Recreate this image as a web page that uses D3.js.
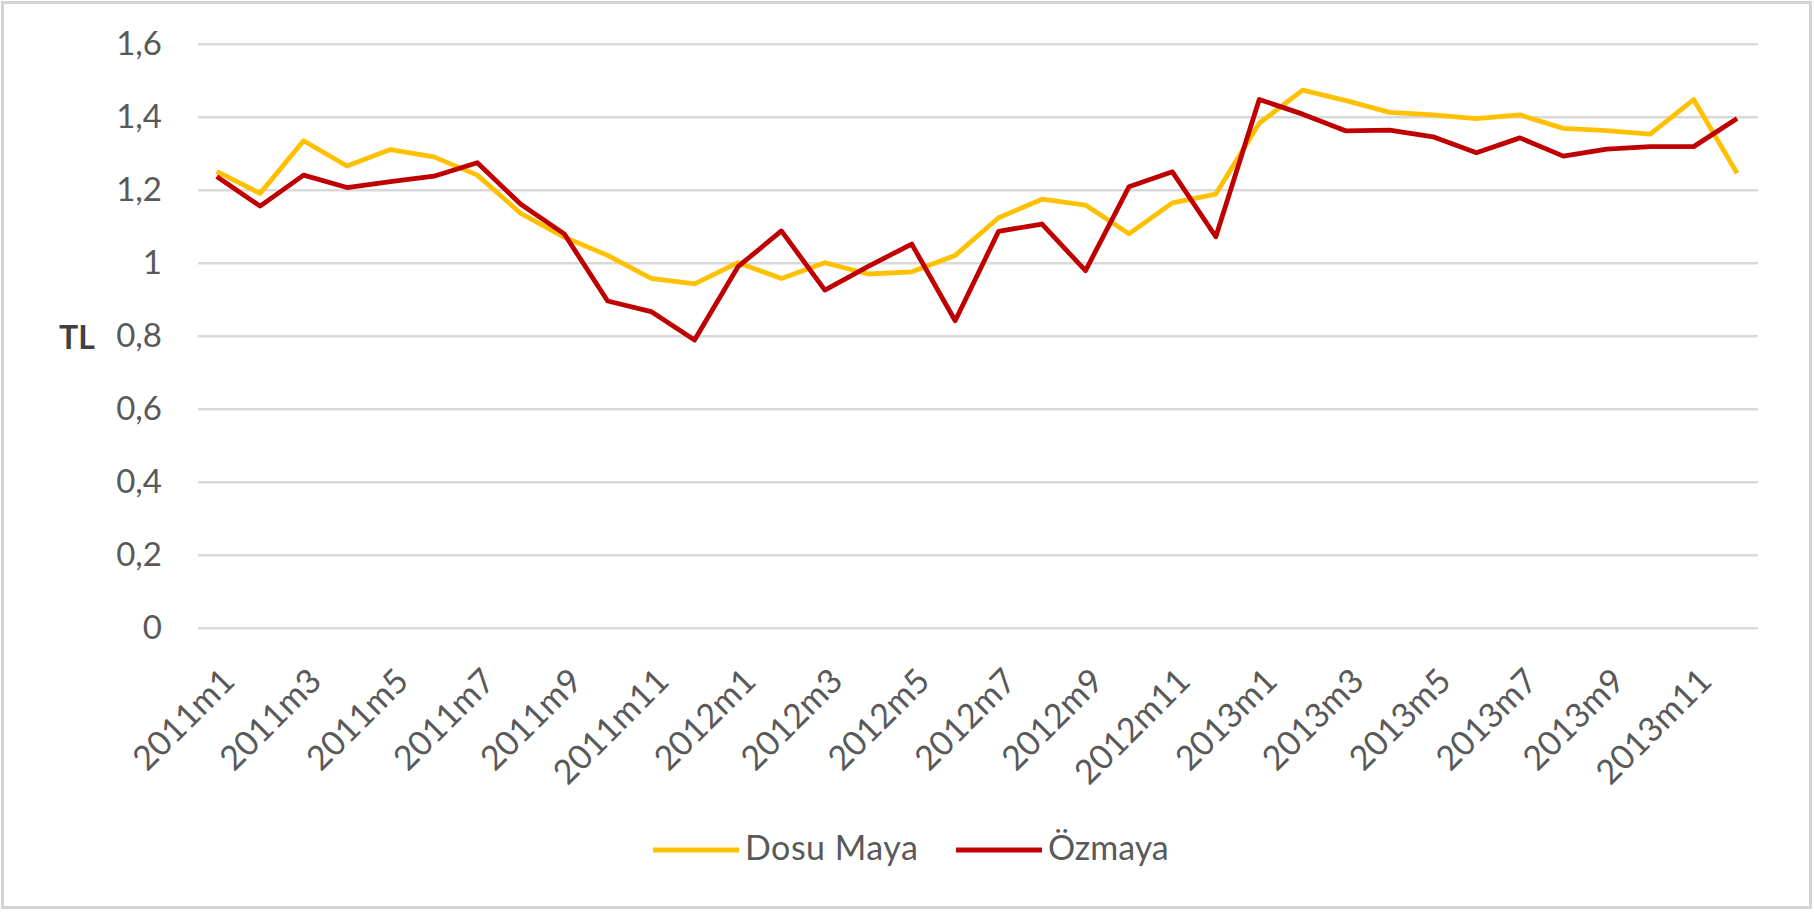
<!DOCTYPE html>
<html>
<head>
<meta charset="utf-8">
<script src="https://cdn.jsdelivr.net/npm/d3@7"></script>
<style>
  body { margin: 0; background: #fff; }
  svg { display: block; }
  text { font-family: Lato, "Open Sans", sans-serif; }
</style>
</head>
<body>
<svg id="chart" width="1814" height="912"></svg>
<script>
// categories: monthly, 2011m1 .. 2013m12
const years = [2011, 2012, 2013];
const months = years.flatMap(y => d3.range(1, 13).map(m => y + "m" + m));

// price series (TL)
const dosuMaya = [1.25, 1.19, 1.334, 1.265, 1.31, 1.29, 1.24, 1.135, 1.07, 1.02,
  0.957, 0.942, 1.0, 0.957, 1.0, 0.969, 0.975, 1.02, 1.123, 1.174,
  1.158, 1.079, 1.164, 1.188, 1.382, 1.473, 1.444, 1.412, 1.405, 1.395,
  1.405, 1.368, 1.362, 1.352, 1.447, 1.245];
const ozmaya = [1.236, 1.155, 1.24, 1.206, 1.222, 1.237, 1.274, 1.16, 1.079, 0.895,
  0.866, 0.788, 0.989, 1.087, 0.925, 0.99, 1.051, 0.841, 1.086, 1.106,
  0.978, 1.208, 1.249, 1.071, 1.447, 1.407, 1.361, 1.363, 1.345, 1.301,
  1.342, 1.292, 1.311, 1.318, 1.318, 1.395];

const yTicks = [0, 0.2, 0.4, 0.6, 0.8, 1, 1.2, 1.4, 1.6];
const yTickLabels = ["0", "0,2", "0,4", "0,6", "0,8", "1", "1,2", "1,4", "1,6"];

const seriesNames = ["Dosu Maya", "Özmaya"];
const seriesColors = ["#ffc000", "#c00000"];

const svg = d3.select("#chart");

// outer frame
svg.append("rect")
  .attr("x", 2.5).attr("y", 2.5)
  .attr("width", 1808).attr("height", 905)
  .attr("fill", "#fff")
  .attr("stroke", "#d4d4d4")
  .attr("stroke-width", 3);

const x = d3.scalePoint().domain(months).range([216.7, 1737.1]);
const y = d3.scaleLinear().domain([0, 1.6]).range([627.7, 43.7]);
const gridLeft = 198, gridRight = 1758;

// gridlines + y labels
const yAxis = d3.axisLeft(y)
  .tickValues(yTicks)
  .tickSize(-(gridRight - gridLeft))
  .tickPadding(36)
  .tickFormat((d, i) => yTickLabels[i]);

svg.append("g")
  .attr("transform", `translate(${gridLeft},0)`)
  .call(yAxis)
  .call(g => g.select(".domain").remove())
  .call(g => g.selectAll(".tick line").attr("stroke", "#d9d9d9").attr("stroke-width", 2.5))
  .call(g => g.selectAll(".tick text")
    .attr("fill", "#595959")
    .attr("font-size", 33)
    .attr("font-family", "Lato, sans-serif"));

// x labels, every second month
const xAxis = d3.axisBottom(x)
  .tickValues(months.filter((d, i) => i % 2 === 0))
  .tickSize(0);

svg.append("g")
  .attr("transform", `translate(0,${y(0)})`)
  .call(xAxis)
  .call(g => g.select(".domain").remove())
  .call(g => g.selectAll(".tick text")
    .attr("fill", "#595959")
    .attr("font-size", 34)
    .attr("font-family", "Lato, sans-serif")
    .attr("text-anchor", "end")
    .attr("dy", "0.35em")
    .attr("y", 0)
    .attr("transform", "translate(11,47) rotate(-45)"));

// axis title
svg.append("text")
  .attr("x", 59).attr("y", 338)
  .attr("dy", "0.35em")
  .attr("font-size", 32)
  .attr("font-weight", "bold")
  .attr("fill", "#404040")
  .text("TL");

// lines
const line = d3.line()
  .x((d, i) => x(months[i]))
  .y(d => y(d));

[dosuMaya, ozmaya].forEach((vals, k) => {
  svg.append("path")
    .datum(vals)
    .attr("fill", "none")
    .attr("stroke", seriesColors[k])
    .attr("stroke-width", 4.8)
    .attr("stroke-linejoin", "round")
    .attr("d", line);
});

// legend
const legendX = [653, 956];
const legend = svg.append("g");
seriesNames.forEach((name, k) => {
  legend.append("line")
    .attr("x1", legendX[k]).attr("x2", legendX[k] + 86)
    .attr("y1", 850).attr("y2", 850)
    .attr("stroke", seriesColors[k])
    .attr("stroke-width", 4.8);
  legend.append("text")
    .attr("x", legendX[k] + 92).attr("y", 848)
    .attr("dy", "0.35em")
    .attr("font-size", 34)
    .attr("fill", "#595959")
    .attr("letter-spacing", k === 0 ? 0.5 : 0)
    .text(name);
});
</script>
</body>
</html>
